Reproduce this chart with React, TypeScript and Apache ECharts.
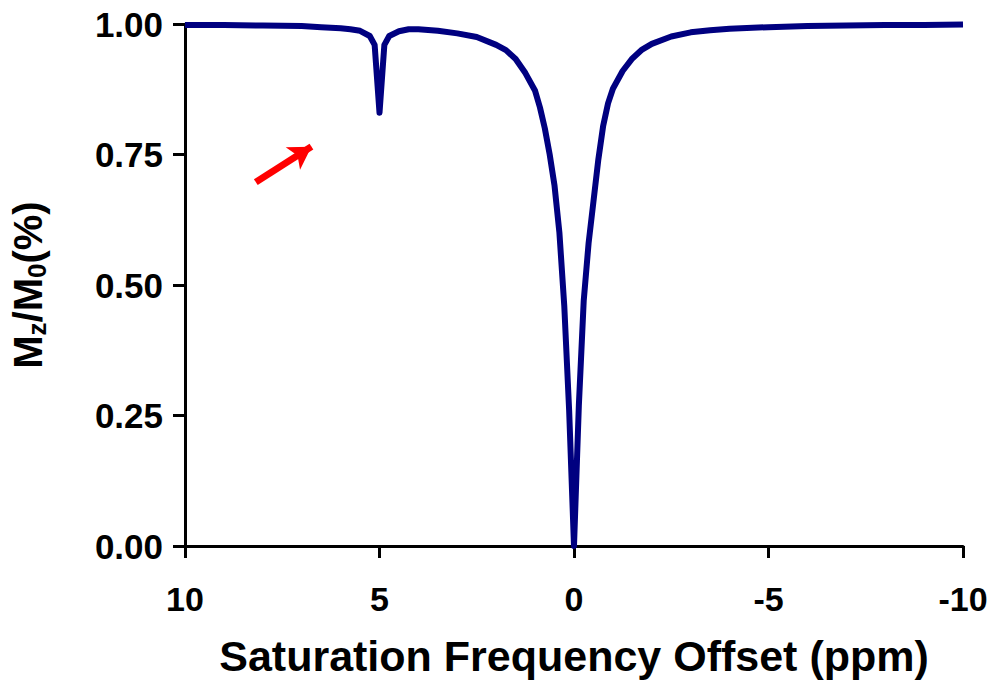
import React, { useEffect, useRef } from "react";
import * as echarts from "echarts";

const ppm = [10, 9, 8, 7, 6.5, 6, 5.75, 5.5, 5.25, 5.125, 5, 4.875, 4.75, 4.5, 4.25, 4, 3.5, 3, 2.5, 2, 1.75, 1.5, 1.25, 1, 0.875, 0.75, 0.625, 0.5, 0.375, 0.25, 0.125, 0, -0.125, -0.25, -0.375, -0.5, -0.625, -0.75, -0.875, -1, -1.25, -1.5, -1.75, -2, -2.5, -3, -3.5, -4, -5, -6, -7, -8, -9, -10];
const mzm0 = [0.998, 0.998, 0.997, 0.996, 0.994, 0.992, 0.99, 0.987, 0.977, 0.96, 0.83, 0.96, 0.977, 0.986, 0.99, 0.99, 0.987, 0.982, 0.975, 0.96, 0.95, 0.933, 0.906, 0.872, 0.84, 0.8, 0.75, 0.69, 0.6, 0.46, 0.26, 0.0, 0.27, 0.47, 0.58, 0.66, 0.74, 0.805, 0.848, 0.876, 0.91, 0.934, 0.951, 0.962, 0.976, 0.984, 0.988, 0.991, 0.994, 0.996, 0.997, 0.998, 0.998, 0.999];
const arrowStart = [8.18, 0.697];
const arrowEnd = [6.75, 0.765];

const xTitle = "Saturation Frequency Offset (ppm)";
const FONT = "'Liberation Sans', Arial, sans-serif";

export default function App() {
  const ref = useRef<HTMLDivElement>(null);
  useEffect(() => {
    if (!ref.current) return;
    const chart = echarts.init(ref.current, undefined, { renderer: "svg" });
    const data = ppm.map((x, i) => [x, mzm0[i]]);
    chart.setOption({
      animation: false,
      backgroundColor: "#ffffff",
      grid: { left: 183, right: 32, top: 24, bottom: 137 },
      xAxis: {
        type: "value",
        min: -10,
        max: 10,
        interval: 5,
        inverse: true,
        position: "bottom",
        name: xTitle,
        nameLocation: "middle",
        nameGap: 88,
        nameTextStyle: { fontSize: 43, fontWeight: "bold", color: "#000", fontFamily: FONT, verticalAlign: "top" },
        axisLine: { show: true, onZero: false, lineStyle: { color: "#000", width: 3 } },
        axisTick: { show: true, length: 12, lineStyle: { color: "#000", width: 3 } },
        axisLabel: { fontSize: 34, fontWeight: "bold", color: "#000", fontFamily: FONT, margin: 36 },
        splitLine: { show: false },
      },
      yAxis: {
        type: "value",
        min: 0,
        max: 1,
        interval: 0.25,
        position: "left",
        name: "M{s|z}/M{s|0}(%)",
        nameLocation: "middle",
        nameGap: 135,
        nameRotate: 90,
        nameTextStyle: {
          fontSize: 40,
          fontWeight: "bold",
          color: "#000",
          fontFamily: FONT,
          rich: {
            s: { fontSize: 26, fontWeight: "bold", color: "#000", fontFamily: FONT, verticalAlign: "bottom", padding: [18, 0, 0, 0] },
          },
        },
        axisLine: { show: true, onZero: false, lineStyle: { color: "#000", width: 3 } },
        axisTick: { show: true, length: 12, lineStyle: { color: "#000", width: 3 } },
        axisLabel: {
          fontSize: 35,
          fontWeight: "bold",
          color: "#000",
          fontFamily: FONT,
          margin: 22,
          formatter: (v: number) => v.toFixed(2),
        },
        splitLine: { show: false },
      },
      series: [
        {
          type: "line",
          data,
          showSymbol: false,
          smooth: false,
          lineStyle: { color: "#000080", width: 6, join: "round" },
          markLine: {
            silent: true,
            symbol: ["none", "arrow"],
            symbolSize: [20, 22],
            label: { show: false },
            lineStyle: { color: "#ff0000", width: 7, type: "solid" },
            data: [[{ coord: arrowStart }, { coord: arrowEnd }]],
          },
        },
      ],
    });
    return () => chart.dispose();
  }, []);
  return <div ref={ref} style={{ width: 995, height: 683, position: "absolute", left: 0, top: 0 }} />;
}
